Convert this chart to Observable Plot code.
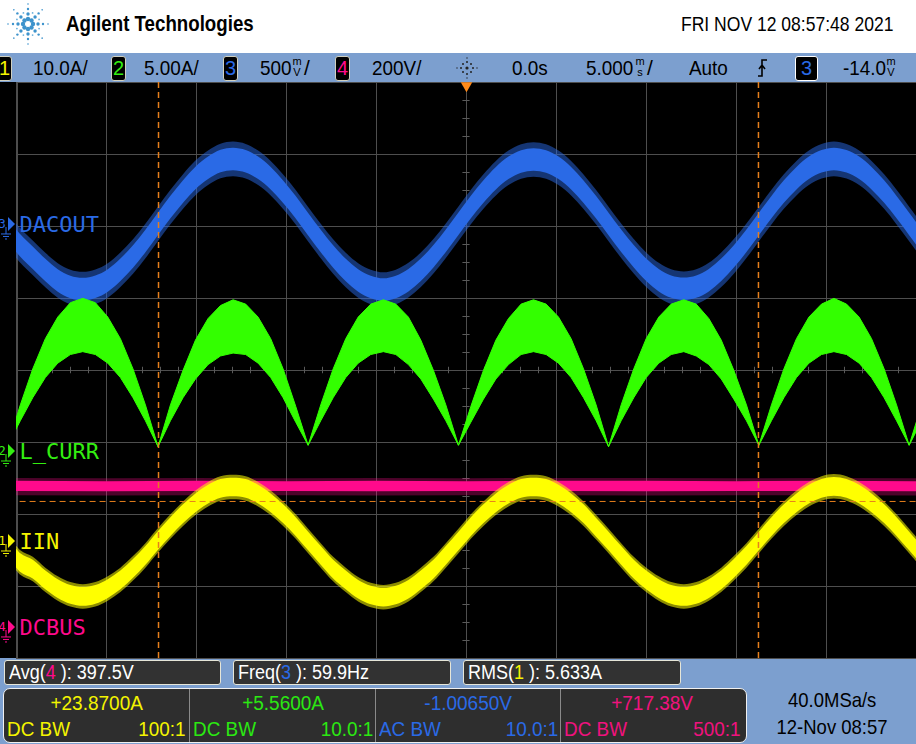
<!DOCTYPE html>
<html><head><meta charset="utf-8">
<script src="https://cdn.jsdelivr.net/npm/d3@7"></script>
<script src="https://cdn.jsdelivr.net/npm/@observablehq/plot@0.6"></script>
<style>
body{margin:0;width:916px;height:744px;overflow:hidden;position:relative;background:#7c9fcf;font-family:"Liberation Sans",Arial,sans-serif}
.a{position:absolute;white-space:nowrap}
.n{display:inline-block;transform:scaleX(.86);transform-origin:0 50%}
.nc{display:inline-block;transform:scaleX(.86);transform-origin:50% 50%}
.box{position:absolute;background:#000;border:1px solid #d0d0c0;border-radius:3px;box-sizing:border-box;text-align:center;font-size:20px;line-height:22px}
.stk{position:absolute;font-size:11px;line-height:11px;text-align:center;width:10px}
.meas{position:absolute;top:660px;height:25px;width:218px;box-sizing:border-box;background:#323232;border:1px solid #e6e6d8;border-radius:3px;color:#fff;font-size:20px;line-height:23px;padding-left:4px}
.cell{position:absolute;top:0;height:53px;width:185px}
.val{position:absolute;top:3px;left:0;width:100%;text-align:center;font-size:20px}
.bw{position:absolute;top:28px;left:3px;font-size:21px}
.rt{position:absolute;top:28px;right:3px;font-size:21px}
</style></head>
<body>
<script>
const timebaseMs = 5;                 // ms / div
const gridTimes = [-25,-20,-15,-10,-5,0,5,10,15,20,25];
const gridDivs = [-4,-3,-2,-1,0,1,2,3,4];
// sample times (ms)
const tMs = [-25.46,-24.76,-24.07,-23.37,-22.68,-21.98,-21.29,-20.59,-19.90,-19.20,-18.50,-17.81,
-17.11,-16.42,-15.72,-15.03,-14.33,-13.64,-12.94,-12.24,-11.55,-10.85,-10.16,-9.46,
-8.77,-8.07,-7.38,-6.68,-5.99,-5.29,-4.59,-3.90,-3.20,-2.51,-1.81,-1.12,
-0.42,0.27,0.97,1.66,2.36,3.06,3.75,4.45,5.14,5.84,6.53,7.23,
7.92,8.62,9.32,10.01,10.71,11.40,12.10,12.79,13.49,14.18,14.88,15.58,
16.27,16.97,17.66,18.36,19.05,19.75,20.44,21.14,21.84,22.53,23.23,23.92,
24.62,25.31];
// CH3 DACOUT, centre of trace (mV)
const dacoutMv = [-40,-150,-235,-320,-392,-437,-452,-436,-392,-318,-226,-118,2,118,226,320,390,437,452,436,390,318,224,116,
-2,-118,-226,-320,-392,-437,-455,-437,-390,-318,-224,-116,2,118,226,318,390,434,448,434,390,318,224,116,
0,-116,-224,-318,-390,-435,-450,-435,-390,-318,-225,-117,0,117,225,318,390,435,452,435,390,318,225,117,
0,-117];
// CH2 L_CURR envelope (A)
const lcurrHi = [0.4,3.2,5.7,7.8,9.3,10.3,10.6,10.3,9.3,7.8,5.7,3.2,
0.3,3.2,5.6,7.7,9.2,10.1,10.5,10.2,9.3,7.8,5.7,3.1,
0.4,3.2,5.7,7.8,9.3,10.2,10.5,10.2,9.3,7.7,5.6,3.2,
0.4,3.1,5.6,7.7,9.2,10.2,10.5,10.2,9.3,7.8,5.7,3.2,
0.3,3.2,5.7,7.8,9.3,10.2,10.5,10.2,9.2,7.7,5.6,3.2,
0.4,3.2,5.7,7.8,9.3,10.2,10.6,10.2,9.3,7.8,5.7,3.2,
0.4,3.2];
const lcurrLo = [0.4,2.1,3.7,5.1,6.1,6.7,6.9,6.7,6.1,5.1,3.7,2.1,
0.3,2.1,3.7,5.0,6.0,6.6,6.8,6.7,6.1,5.1,3.7,2.0,
0.4,2.1,3.7,5.1,6.1,6.7,6.9,6.7,6.0,5.0,3.6,2.1,
0.4,2.0,3.6,5.0,6.0,6.7,6.9,6.7,6.1,5.1,3.7,2.1,
0.3,2.1,3.7,5.1,6.1,6.7,6.9,6.6,6.0,5.0,3.6,2.1,
0.4,2.1,3.7,5.1,6.1,6.7,6.9,6.7,6.1,5.1,3.7,2.1,
0.4,2.1];
// CH1 IIN, centre of trace (A)
const iinA = [-0.8,-3.0,-3.9,-5.4,-6.6,-7.4,-7.7,-7.4,-6.6,-5.4,-3.8,-2.0,0.1,2.0,3.8,5.3,6.5,7.3,7.5,7.3,6.5,5.3,3.8,2.0,
0,-2.0,-3.9,-5.4,-6.7,-7.5,-7.8,-7.5,-6.7,-5.4,-3.9,-2.0,0,2.0,3.8,5.3,6.5,7.3,7.5,7.3,6.5,5.3,3.8,1.9,
0,-2.0,-3.9,-5.4,-6.6,-7.4,-7.7,-7.4,-6.6,-5.4,-3.8,-2.0,0,2.0,3.8,5.3,6.5,7.3,7.6,7.3,6.5,5.3,3.8,2.0,
0,-2.0];
// CH4 DCBUS envelope (V)
const dcbusT = [-25,-20,-15,-10,-5,0,5,10,15,20,25];
const dcbusHi = [406,405,406,405,406,405,406,406,405,406,405];
const dcbusLo = [378,377,378,378,377,378,378,377,378,378,377];
// cursors
const cursorXMs = [-17.11, 16.22];
const cursorYA = [5.56];     // on CH1 scale
const triggerMs = [0];

// channel settings: units/div, ground marker position (div from centre)
const ch1 = {num:"1", label:"IIN",    color:"#f4f400", scale:10,  off:-2.375, band:1.3, fringe:1.7};
const ch2 = {num:"2", label:"L_CURR", color:"#33ee11", scale:5,   off:-1.125};
const ch3 = {num:"3", label:"DACOUT", color:"#2a6ae6", scale:500, off:2.028, band:78, fringe:120};
const ch4 = {num:"4", label:"DCBUS",  color:"#ff0a8c", scale:200, off:-3.569};
const chans = [ch3, ch2, ch1, ch4];
const toDiv = (ch, v) => v / ch.scale + ch.off;

const rows = tMs.map((t, i) => ({t, dac: dacoutMv[i], hi: lcurrHi[i], lo: lcurrLo[i], iin: iinA[i]}));
const dcRows = dcbusT.map((t, i) => ({t, hi: dcbusHi[i], lo: dcbusLo[i]}));
const minorY = d3.range(-4, 4.001, 0.25).filter(v => Math.abs(v % 1) > 1e-6);
const minorX = d3.range(-25, 25.001, 1).filter(v => Math.abs(v % 5) > 1e-6);
const orange = "#e57f1c";

function groundMarkers(index, scales) {
  const g = d3.create("svg:g");
  for (const c of chans) {
    const py = scales.y(c.off), px = scales.x(-25);
    g.append("path").attr("d", `M${px-8},${py-7}L${px-1},${py}L${px-8},${py+7}Z`).attr("fill", c.color);
    g.append("text").attr("x", px-14).attr("y", py+4).attr("fill", c.color)
      .attr("font-size", 12).attr("font-family", "DejaVu Sans Mono").text(c.num);
    g.append("path").attr("d", `M${px-10},${py+3}V${py+10}M${px-15},${py+10}H${px-5}M${px-13},${py+12.5}H${px-7}M${px-11},${py+15}H${px-9}`)
      .attr("stroke", c.color).attr("fill", "none").attr("stroke-width", 1);
  }
  return g.node();
}

const chart = Plot.plot({
  width: 916, height: 576,
  marginLeft: 16, marginRight: 0, marginTop: 0, marginBottom: 0,
  style: {background: "#000", overflow: "visible"},
  x: {domain: [-25, 25], axis: null},
  y: {domain: [-4, 4], axis: null},
  marks: [
    Plot.ruleX(gridTimes.slice(1), {stroke: "#4e4e4e"}),
    Plot.ruleX([gridTimes[0]], {stroke: "#9a9a9a", dx: 0.5}),
    Plot.ruleY(gridDivs, {stroke: "#4e4e4e"}),
    Plot.ruleY(minorY, {x1: -0.2, x2: 0.2, stroke: "#5a5a5a"}),
    Plot.ruleX(minorX, {y1: -0.045, y2: 0.045, stroke: "#5a5a5a"}),
    // CH4 DCBUS
    Plot.areaY(dcRows, {x: "t", y1: d => toDiv(ch4, d.lo - 12), y2: d => toDiv(ch4, d.hi + 8), fill: ch4.color, fillOpacity: 0.3, clip: true}),
    Plot.areaY(dcRows, {x: "t", y1: d => toDiv(ch4, d.lo), y2: d => toDiv(ch4, d.hi), fill: ch4.color, clip: true}),
    // CH3 DACOUT
    Plot.areaY(rows, {x: "t", y1: d => toDiv(ch3, d.dac - ch3.fringe), y2: d => toDiv(ch3, d.dac + ch3.fringe), fill: ch3.color, fillOpacity: 0.5, curve: "catmull-rom", clip: true}),
    Plot.areaY(rows, {x: "t", y1: d => toDiv(ch3, d.dac - ch3.band), y2: d => toDiv(ch3, d.dac + ch3.band), fill: ch3.color, curve: "catmull-rom", clip: true}),
    // CH2 L_CURR
    Plot.areaY(rows, {x: "t", y1: d => toDiv(ch2, d.lo), y2: d => toDiv(ch2, d.hi), fill: "#33ff00", stroke: "#33ff00", strokeWidth: 1, clip: true}),
    // CH1 IIN
    Plot.areaY(rows, {x: "t", y1: d => toDiv(ch1, d.iin - ch1.fringe), y2: d => toDiv(ch1, d.iin + ch1.fringe), fill: "#ffff00", fillOpacity: 0.55, curve: "catmull-rom", clip: true}),
    Plot.areaY(rows, {x: "t", y1: d => toDiv(ch1, d.iin - ch1.band), y2: d => toDiv(ch1, d.iin + ch1.band), fill: "#ffff00", curve: "catmull-rom", clip: true}),
    // cursors
    Plot.ruleX(cursorXMs, {stroke: orange, strokeWidth: 1.5, strokeDasharray: "6,4"}),
    Plot.ruleY(cursorYA, {y: d => toDiv(ch1, d), x1: -24.8, x2: 25, stroke: orange, strokeWidth: 1, strokeDasharray: "6,4"}),
    Plot.dot(triggerMs, {x: d => d, y: () => 4, symbol: "triangle2", rotate: 180, r: 5.5, fill: "#ff8a1a", dy: 3}),
    // labels
    ...chans.map(c => Plot.text([c], {x: () => -25, y: d => d.off, text: d => d.label, dx: 3, textAnchor: "start",
      fill: c.color, fontSize: 22, fontFamily: "DejaVu Sans Mono"})),
    groundMarkers
  ]
});
chart.style.position = "absolute"; chart.style.left = "0px"; chart.style.top = "82px";
document.body.appendChild(chart);
</script>

<!-- header -->
<div class="a" style="left:0;top:0;width:916px;height:53px;background:#fff">
  <svg id="logo" width="60" height="53" style="position:absolute;left:0;top:0"></svg>
  <div class="a" style="left:66px;top:11px;font-size:22px;font-weight:bold;line-height:26px"><span class="n" style="transform:scaleX(.85)">Agilent Technologies</span></div>
  <div class="a" style="left:681px;top:12px;font-size:21px;line-height:24px"><span class="n" style="transform:scaleX(.835)">FRI NOV 12 08:57:48 2021</span></div>
</div>
<!-- channel bar -->
<div class="a" style="left:0;top:53px;width:916px;height:29px;font-size:21px;line-height:29px;color:#000">
  <div class="box" style="left:-3px;top:3px;width:15px;height:25px;color:#f4f400">1</div>
  <div class="a" style="left:33px;top:0"><span class="n" style="transform:scaleX(.9)">10.0A/</span></div>
  <div class="box" style="left:111px;top:3px;width:15px;height:25px;color:#33ee11">2</div>
  <div class="a" style="left:144px;top:0"><span class="n" style="transform:scaleX(.9)">5.00A/</span></div>
  <div class="box" style="left:223px;top:3px;width:15px;height:25px;color:#2a6ae6">3</div>
  <div class="a" style="left:260px;top:0"><span class="n" style="transform:scaleX(.9)">500</span></div>
  <div class="stk" style="left:292px;top:3px">m</div><div class="stk" style="left:292px;top:14px">V</div>
  <div class="a" style="left:304px;top:0">/</div>
  <div class="box" style="left:335px;top:3px;width:15px;height:25px;color:#ff0a8c">4</div>
  <div class="a" style="left:372px;top:0"><span class="n" style="transform:scaleX(.9)">200V/</span></div>
  <svg width="24" height="24" style="position:absolute;left:455px;top:3px">
    <g fill="#222"><circle cx="12" cy="12" r="1.6"/><circle cx="12" cy="6" r="1"/><circle cx="12" cy="18" r="1"/><circle cx="6" cy="12" r="1"/><circle cx="18" cy="12" r="1"/><circle cx="8" cy="8" r="1"/><circle cx="16" cy="16" r="1"/><circle cx="16" cy="8" r="1"/><circle cx="8" cy="16" r="1"/><circle cx="12" cy="2" r=".7"/><circle cx="12" cy="22" r=".7"/><circle cx="2" cy="12" r=".7"/><circle cx="22" cy="12" r=".7"/></g>
  </svg>
  <div class="a" style="left:512px;top:0"><span class="n" style="transform:scaleX(.9)">0.0s</span></div>
  <div class="a" style="left:586px;top:0"><span class="n" style="transform:scaleX(.9)">5.000</span></div>
  <div class="stk" style="left:635px;top:3px">m</div><div class="stk" style="left:635px;top:14px">s</div>
  <div class="a" style="left:647px;top:0">/</div>
  <div class="a" style="left:689px;top:0"><span class="n" style="transform:scaleX(.9)">Auto</span></div>
  <svg width="14" height="24" style="position:absolute;left:756px;top:3px"><path d="M2,20H6V4H11M3,13L6,9L9,13" stroke="#000" stroke-width="1.6" fill="none"/></svg>
  <div class="box" style="left:795px;top:3px;width:23px;height:25px;color:#2a6ae6;border-color:#fff">3</div>
  <div class="a" style="left:843px;top:0"><span class="n" style="transform:scaleX(.9)">-14.0</span></div>
  <div class="stk" style="left:886px;top:3px">m</div><div class="stk" style="left:886px;top:14px">V</div>
</div>
<!-- measurements -->
<div class="meas" style="left:4px;width:217px"><span class="n" style="transform:scaleX(.9)">Avg(<span style="color:#ff0a8c">4</span> ): 397.5V</span></div>
<div class="meas" style="left:233px"><span class="n" style="transform:scaleX(.9)">Freq(<span style="color:#2a6ae6">3</span> ): 59.9Hz</span></div>
<div class="meas" style="left:463px"><span class="n" style="transform:scaleX(.9)">RMS(<span style="color:#f4f400">1</span> ): 5.633A</span></div>
<div class="a" style="left:3px;top:688px;width:744px;height:55px;box-sizing:border-box;background:#2e2e2e;border:1.5px solid #f0f0f0;border-radius:7px">
  <div class="cell" style="left:0;color:#f4f400"><div class="val"><span class="nc" style="transform:scaleX(.95)">+23.8700A</span></div><div class="bw"><span class="n" style="transform:scaleX(.9)">DC BW</span></div><div class="rt"><span class="nc" style="transform:scaleX(.9);transform-origin:100% 50%">100:1</span></div></div>
  <div class="cell" style="left:185px;width:186px;border-left:1px solid #8a8a8a;color:#2be812"><div class="val"><span class="nc" style="transform:scaleX(.95)">+5.5600A</span></div><div class="bw"><span class="n" style="transform:scaleX(.9)">DC BW</span></div><div class="rt"><span class="nc" style="transform:scaleX(.9);transform-origin:100% 50%">10.0:1</span></div></div>
  <div class="cell" style="left:371px;width:185px;border-left:1px solid #8a8a8a;color:#2a6ae6"><div class="val"><span class="nc" style="transform:scaleX(.95)">-1.00650V</span></div><div class="bw"><span class="n" style="transform:scaleX(.9)">AC BW</span></div><div class="rt"><span class="nc" style="transform:scaleX(.9);transform-origin:100% 50%">10.0:1</span></div></div>
  <div class="cell" style="left:556px;width:183px;border-left:1px solid #8a8a8a;color:#f0127e"><div class="val"><span class="nc" style="transform:scaleX(.95)">+717.38V</span></div><div class="bw"><span class="n" style="transform:scaleX(.9)">DC BW</span></div><div class="rt"><span class="nc" style="transform:scaleX(.9);transform-origin:100% 50%">500:1</span></div></div>
</div>
<div class="a" style="left:752px;top:688px;width:160px;text-align:center;font-size:21px;line-height:24px"><span class="nc" style="transform:scaleX(.88)">40.0MSa/s</span></div>
<div class="a" style="left:752px;top:714px;width:160px;text-align:center;font-size:21px;line-height:26px"><span class="nc" style="transform:scaleX(.88)">12-Nov 08:57</span></div>
<script>
// Agilent spark logo (decorative)
{
  const s = d3.select("#logo"), cx = 28, cy = 24;
  for (let a = 0; a < 8; a++) {
    const ang = a * Math.PI / 4;
    [[5,2.2],[10,1.7],[15,1.2],[20,0.8]].forEach(([r, rr]) =>
      s.append("circle").attr("cx", cx + r*Math.cos(ang)).attr("cy", cy + r*Math.sin(ang)).attr("r", rr).attr("fill", "#3d93cc"));
  }
  for (let a = 0; a < 8; a++) {
    const ang = a * Math.PI / 4 + Math.PI/8;
    s.append("circle").attr("cx", cx + 12*Math.cos(ang)).attr("cy", cy + 12*Math.sin(ang)).attr("r", 0.9).attr("fill", "#6ab0dc");
  }
}
</script>
</body></html>
